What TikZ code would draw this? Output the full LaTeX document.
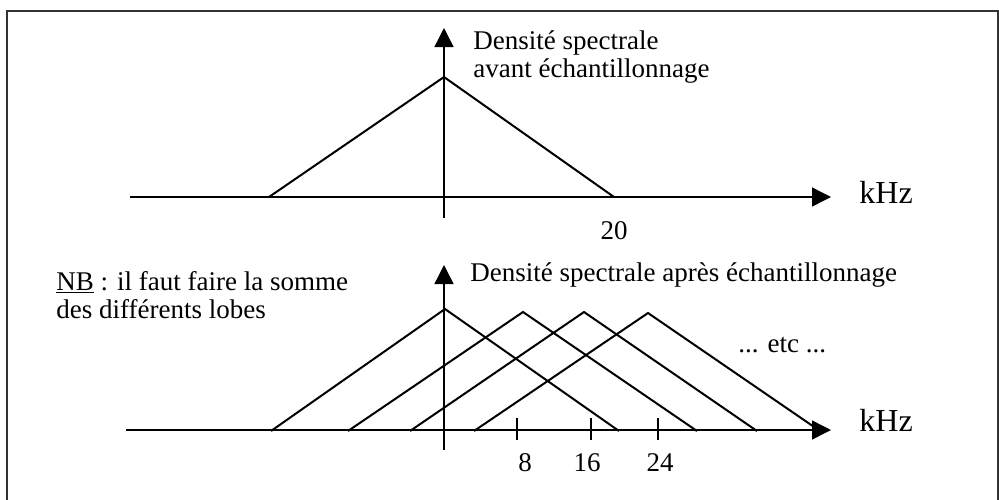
\documentclass[tikz,border=0pt]{standalone}
\usepackage{fontspec}
\setmainfont{Liberation Serif}
\usetikzlibrary{arrows.meta, positioning}

\begin{document}
\begin{tikzpicture}[x=0.5pt, y=-0.5pt,
    >={Triangle[length=9.5pt, width=9.5pt]},
    axis/.style={->, line width=0.7pt},
    lobe/.style={line width=1pt},
    tick/.style={line width=0.6pt},
    lbl/.style={inner sep=0pt, font=\fontsize{13.5}{14}\selectfont},
    unit/.style={inner sep=0pt, font=\fontsize{16}{18}\selectfont}]
  \useasboundingbox (0,0) rectangle (999,499);
  \draw[line width=1pt, black!80] (7,11) rectangle (997.5,530);

  % avant echantillonnage
  \coordinate (x1a) at (130,197);
  \coordinate (x1b) at (831,197);
  \coordinate (y1a) at (444,218);
  \coordinate (y1b) at (444,28);
  \coordinate (t1r) at (614,197);
  \draw[axis] (x1a) -- (x1b);
  \draw[axis] (y1a) -- (y1b);
  \draw[lobe] (269,197) -- (444,77) -- (t1r);
  % base of a two line node = last line
  \node[lbl, anchor=base west, align=left] (dsp1) at (473,77)
    {Densité spectrale\\avant échantillonnage};
  \node[unit, right=14pt of x1b, yshift=2.5pt] (khz1) {kHz};
  \node[lbl, below=12pt of t1r] (f20) {20};

  % apres echantillonnage
  \coordinate (x2a) at (126,430);
  \coordinate (x2b) at (831,430);
  \coordinate (y2a) at (444,450);
  \coordinate (y2b) at (444,265);
  \draw[axis] (x2a) -- (x2b);
  \draw[axis] (y2a) -- (y2b);
  \draw[lobe] (271,431) -- (445,309) -- (619,431);
  \draw[lobe] (348,431) -- (523,312) -- (697,431);
  \draw[lobe] (410,431) -- (584,312) -- (757,431);
  \draw[lobe] (474,431) -- (648,313) -- (820,431);
  \draw[tick] (517,418) -- (517,440);
  \draw[tick] (591,418) -- (591,440);
  \draw[tick] (658,418) -- (658,440);
  \node[lbl] (f8) at (525,463) {8};
  \node[lbl] (f16) at (587,463) {16};
  \node[lbl] (f24) at (660,463) {24};
  \node[unit, right=14pt of x2b, yshift=5pt] (khz2) {kHz};
  \node[lbl, anchor=base west] (dsp2) at (470,281)
    {Densité spectrale après échantillonnage};
  \node[lbl, anchor=base west] (etc) at (738,352) {... etc ...};
  \node[lbl, anchor=base west, align=left] (nb) at (56,318)
    {\underline{NB} : il faut faire la somme\\des différents lobes};
\end{tikzpicture}
\end{document}
